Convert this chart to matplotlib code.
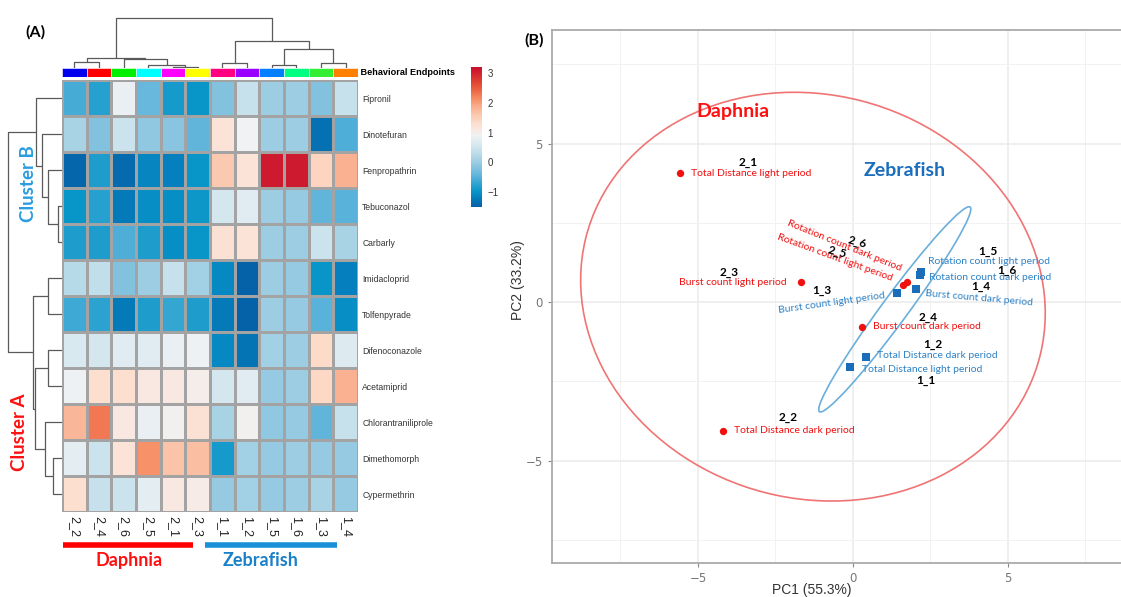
import numpy as np
import matplotlib
matplotlib.use('Agg')
import matplotlib.pyplot as plt
from matplotlib.colors import LinearSegmentedColormap, Normalize
from matplotlib.patches import Ellipse
import matplotlib.transforms as mtransforms

# ---------------- data: heatmap ----------------
samples = ['2_2', '2_4', '2_6', '2_5', '2_1', '2_3', '1_1', '1_2', '1_5', '1_6', '1_3', '1_4']
sample_colors = ['#0000ee', '#ff0000', '#00ee00', '#00ffff', '#ff00ff', '#ffff00',
                 '#ff0080', '#9900ff', '#0080ff', '#00ff80', '#33ee33', '#ff8000']
chemicals = ['Fipronil', 'Dinotefuran', 'Fenpropathrin', 'Tebuconazol', 'Carbarly',
             'Imidacloprid', 'Tolfenpyrade', 'Difenoconazole', 'Acetamiprid',
             'Chlorantraniliprole', 'Dimethomorph', 'Cypermethrin']
values = np.array([
    [-0.60, -0.80, 0.80, -0.40, -0.90, -1.00, -0.20, 0.40, 0.00, 0.00, -0.20, 0.40],
    [0.10, -0.20, 0.45, -0.10, -0.15, -0.45, 1.20, 0.90, 0.00, 0.00, -1.35, -0.55],
    [-1.45, -0.85, -1.40, -1.15, -1.20, -1.00, 1.60, 1.20, 3.10, 3.10, 1.45, 1.85],
    [-1.00, -0.80, -1.25, -1.05, -1.05, -0.95, 0.55, 0.70, 0.00, -0.05, -0.45, -0.50],
    [-0.85, -0.85, -0.55, -0.85, -1.05, -1.00, 1.25, 1.20, 0.00, 0.00, 0.45, 0.10],
    [0.25, 0.35, -0.20, 0.00, 0.40, 0.05, -1.10, -1.50, 0.00, -0.05, -1.00, -1.20],
    [-0.65, -0.75, -1.25, -0.85, -0.70, -0.85, -1.25, -1.50, 0.00, -0.05, -0.50, -1.05],
    [0.60, 0.55, 0.70, 0.70, 0.80, 0.85, -1.10, -1.30, 0.05, 0.00, 1.35, 0.65],
    [0.85, 1.30, 1.30, 1.10, 1.10, 1.00, 0.55, 0.70, -0.05, 0.00, 1.40, 1.85],
    [1.80, 2.30, 1.10, 0.80, 0.95, 1.25, 0.10, 0.95, -0.10, -0.05, -0.45, 0.40],
    [0.75, 0.45, 1.20, 2.10, 1.65, 1.70, -0.90, 0.05, -0.05, 0.00, -0.05, -0.05],
    [1.30, 0.40, 0.45, 0.75, 1.10, 1.05, -0.05, 0.05, -0.05, 0.00, 0.10, -0.05],
])
cbar_ticks = [-1, 0, 1, 2, 3]
# dendrogram merges: (node_a, node_b, height); new node ids start at 12
row_merges = [(3, 4, 4), (2, 12, 14), (1, 13, 20), (0, 14, 26), (5, 6, 14), (7, 8, 14),
              (10, 11, 9), (9, 18, 17), (17, 19, 27), (16, 20, 29), (15, 21, 54)]
col_merges = [(0, 1, 6), (4, 5, 1.5), (3, 13, 3), (2, 14, 9), (12, 15, 10.5), (6, 7, 5),
              (8, 9, 3), (10, 11, 5), (18, 19, 19), (17, 20, 27), (16, 21, 50)]

# ---------------- data: PCA ----------------
daphnia_ids = ['2_1', '2_2', '2_3', '2_4', '2_5', '2_6']
daphnia_pc1 = [-5.58, -4.20, -1.68, 0.28, 1.74, 1.60]
daphnia_pc2 = [4.07, -4.06, 0.63, -0.80, 0.64, 0.54]
zebra_ids = ['1_1', '1_2', '1_3', '1_4', '1_5', '1_6']
zebra_pc1 = [-0.10, 0.42, 1.41, 2.05, 2.20, 2.15]
zebra_pc2 = [-2.06, -1.72, 0.27, 0.42, 0.95, 0.85]
daphnia_endpoints = ['Total Distance light period', 'Total Distance dark period',
                     'Burst count light period', 'Burst count dark period',
                     'Rotation count light period', 'Rotation count dark period']
zebra_endpoints = ['Total Distance light period', 'Total Distance dark period',
                   'Burst count light period', 'Burst count dark period',
                   'Rotation count light period', 'Rotation count dark period']

RED = '#f01010'
BLUE = '#1a6db8'
BLUE_T = '#2f82c6'

W, H = 1121, 597
fig = plt.figure(figsize=(W / 100, H / 100), dpi=100)


def fr(x0, y0, x1, y1):
    """pixel box (top-left origin) -> figure fraction rect"""
    return [x0 / W, 1 - y1 / H, (x1 - x0) / W, (y1 - y0) / H]


cmap = LinearSegmentedColormap.from_list('hm', [
    (0.00, '#0562a8'), ((-1.2 + 1.5) / 4.7, '#0580bd'), ((-1.0 + 1.5) / 4.7, '#0895c8'),
    ((-0.7 + 1.5) / 4.7, '#35a6d2'), ((-0.4 + 1.5) / 4.7, '#6ab8dc'),
    ((0.0 + 1.5) / 4.7, '#9dcde3'), ((0.3 + 1.5) / 4.7, '#bcdde9'),
    ((0.6 + 1.5) / 4.7, '#d9e9f0'), ((0.9 + 1.5) / 4.7, '#f0f2f3'),
    ((1.1 + 1.5) / 4.7, '#f9e8e2'), ((1.3 + 1.5) / 4.7, '#fcdfcf'),
    ((1.6 + 1.5) / 4.7, '#fbc9af'), ((1.9 + 1.5) / 4.7, '#f9ad8c'),
    ((2.2 + 1.5) / 4.7, '#f5855c'), ((2.6 + 1.5) / 4.7, '#e65036'), (1.0, '#c8102e')])
norm = Normalize(vmin=-1.5, vmax=3.2)

# heatmap
ax_hm = fig.add_axes(fr(62, 80, 358, 512))
ax_hm.pcolormesh(np.arange(13), np.arange(13), values, cmap=cmap, norm=norm,
                 edgecolors='#a3a3a3', linewidth=0.9)
ax_hm.set_xlim(0, 12)
ax_hm.set_ylim(12, 0)
for s in ax_hm.spines.values():
    s.set_visible(False)
ax_hm.set_xticks(np.arange(12) + 0.5)
ax_hm.set_xticklabels(samples, rotation=270, fontsize=9, family='Liberation Sans',
                      color='#222222')
ax_hm.yaxis.tick_right()
ax_hm.set_yticks(np.arange(12) + 0.5)
ax_hm.set_yticklabels(chemicals, fontsize=6.2, family='Liberation Sans', color='#333333')
ax_hm.tick_params(length=0, pad=3)

# column colour strip
ax_st = fig.add_axes(fr(62, 68, 358, 77))
for i, c in enumerate(sample_colors):
    ax_st.bar(i + 0.5, 1, width=1, color=c, edgecolor='white', linewidth=0.4)
ax_st.set_xlim(0, 12)
ax_st.set_ylim(0, 1)
ax_st.axis('off')
ax_st.text(1.0, 0.5, ' Behavioral Endpoints', transform=ax_st.transAxes, ha='left',
           va='center', fontsize=6.6, fontweight='bold', family='Liberation Sans')


def dendro(ax, merges, n, orient):
    pos = {i: i + 0.5 for i in range(n)}
    hgt = {i: 0.0 for i in range(n)}
    for k, (a, b, h) in enumerate(merges):
        xs = [pos[a], pos[a], pos[b], pos[b]]
        ys = [hgt[a], h, h, hgt[b]]
        if orient == 'top':
            ax.plot(xs, ys, color='#5a5a5a', lw=0.9, solid_capstyle='butt')
        else:
            ax.plot(ys, xs, color='#5a5a5a', lw=0.9, solid_capstyle='butt')
        pos[n + k] = (pos[a] + pos[b]) / 2
        hgt[n + k] = h


ax_cd = fig.add_axes(fr(62, 10, 358, 68))
dendro(ax_cd, col_merges, 12, 'top')
ax_cd.set_xlim(0, 12)
ax_cd.set_ylim(0, 58)
ax_cd.axis('off')

ax_rd = fig.add_axes(fr(0, 80, 62, 512))
dendro(ax_rd, row_merges, 12, 'left')
ax_rd.set_ylim(12, 0)
ax_rd.set_xlim(62, 0)
ax_rd.axis('off')

# colorbar
ax_cb = fig.add_axes(fr(471, 67, 482, 207))
grad = np.linspace(-1.5, 3.2, 200).reshape(-1, 1)
ax_cb.imshow(grad, aspect='auto', cmap=cmap, norm=norm, origin='lower',
             extent=[0, 1, -1.5, 3.2])
ax_cb.set_xticks([])
ax_cb.yaxis.tick_right()
ax_cb.set_yticks(cbar_ticks)
ax_cb.set_yticklabels(['\u22121', '0', '1', '2', '3'], fontsize=7, color='#333333',
                      family='Liberation Sans')
ax_cb.tick_params(length=0, pad=4)
for s in ax_cb.spines.values():
    s.set_visible(False)

# group bars and labels under heatmap
tr = mtransforms.blended_transform_factory(ax_hm.transData, ax_hm.transAxes)
ax_hm.plot([0.04, 5.31], [-0.076, -0.076], transform=tr, color='#ff0000', lw=4,
           clip_on=False, solid_capstyle='butt')
ax_hm.plot([5.8, 11.15], [-0.076, -0.076], transform=tr, color='#1a90d8', lw=4,
           clip_on=False, solid_capstyle='butt')
ax_hm.text(2.72, -0.112, 'Daphnia', transform=tr, ha='center', va='center', color='#ff1010',
           fontsize=13, fontweight='bold', family='Lato')
ax_hm.text(8.07, -0.112, 'Zebrafish', transform=tr, ha='center', va='center', color='#1a80c8',
           fontsize=13, fontweight='bold', family='Lato')

fig.text(28 / W, 1 - 184 / H, 'Cluster B', rotation=90, ha='center', va='center',
         color='#2a9de0', fontsize=13.5, family='Lato', fontweight='bold')
fig.text(19.5 / W, 1 - 432 / H, 'Cluster A', rotation=90, ha='center', va='center',
         color='#ff1010', fontsize=13.5, family='Lato', fontweight='bold')
fig.text(35 / W, 1 - 32 / H, '(A)', ha='center', va='center', fontsize=11.5,
         fontweight='bold', family='Lato')
fig.text(534 / W, 1 - 40 / H, '(B)', ha='center', va='center', fontsize=11.5,
         fontweight='bold', family='Lato')

# ---------------- PCA panel ----------------
ax = fig.add_axes(fr(552, 30, 1130, 563))
ax.set_xlim(-9.71, 8.94)
ax.set_ylim(-8.23, 8.58)
ax.set_xticks([-5, 0, 5])
ax.set_yticks([-5, 0, 5])
ax.set_xticklabels(['\u22125', '0', '5'])
ax.set_yticklabels(['\u22125', '0', '5'])
ax.set_xticks([-7.5, -2.5, 2.5, 7.5], minor=True)
ax.set_yticks([-7.5, -2.5, 2.5, 7.5], minor=True)
ax.grid(which='major', color='#ebebeb', lw=1.1)
ax.grid(which='minor', color='#f2f2f2', lw=0.7)
ax.set_axisbelow(True)
ax.tick_params(which='major', length=3, color='#888888', labelcolor='#777777', labelsize=8.5)
ax.tick_params(which='minor', length=0)
for side in ['left', 'bottom', 'top']:
    ax.spines[side].set_color('#aaaaaa')
    ax.spines[side].set_linewidth(1.3)
ax.spines['right'].set_visible(False)

fig.text(812 / W, 1 - 590 / H, 'PC1 (55.3%)', ha='center', va='center', fontsize=10,
         color='#333333', family='Liberation Sans')
fig.text(518 / W, 1 - 280 / H, 'PC2 (33.2%)', ha='center', va='center', fontsize=10,
         color='#333333', rotation=90, family='Liberation Sans')

ax.add_patch(Ellipse((-1.29, 0.17), 2 * 7.56, 2 * 6.37, angle=-14, fill=False,
                     edgecolor='#f07474', lw=1.2))
ax.add_patch(Ellipse((1.35, -0.23), 2 * 4.04, 2 * 0.42, angle=53, fill=False,
                     edgecolor='#6aaedb', lw=1.2))

ax.scatter(daphnia_pc1, daphnia_pc2, s=28, color=RED, marker='o', zorder=3, linewidths=0)
ax.scatter(zebra_pc1, zebra_pc2, s=30, color=BLUE, marker='s', zorder=3, linewidths=0)

# label placement: (dx, dy, ha, rotation) in pixels relative to point
d_lab = [(11, 0, 'left', 0), (11, 0, 'left', 0), (-14, 0, 'right', 0), (11, 1, 'left', 0),
         (-72, 24, 'center', -20), (-58, 39, 'center', -22)]
d_id = [(68, 11, 0), (65, 13, 0), (-72, 10, 0), (66, 10, 0), (-70, 30, -15), (-45, 43, -15)]
z_lab = [(12, -2, 'left', 0), (11, 1, 'left', 0), (-65, -10, 'center', 8),
         (63, -9, 'center', -5), (7, 10, 'left', 0), (9, -2, 'left', 0)]
z_id = [(76, -13, 0), (67, 12, 0), (-75, 3, 0), (64, 2, 0), (67, 20, 0), (87, 5, 0)]

for i in range(6):
    dx, dy, ha, rot = d_lab[i]
    ax.annotate(daphnia_endpoints[i], (daphnia_pc1[i], daphnia_pc2[i]), xytext=(dx, dy),
                textcoords='offset pixels', ha=ha, va='center', rotation=rot,
                rotation_mode='anchor', color=RED, fontsize=7.5, family='Lato')
    dx, dy, rot = d_id[i]
    ax.annotate(daphnia_ids[i], (daphnia_pc1[i], daphnia_pc2[i]), xytext=(dx, dy),
                textcoords='offset pixels', ha='center', va='center', rotation=rot,
                rotation_mode='anchor', color='black', fontsize=8.5, fontweight='bold',
                family='Lato')
    dx, dy, ha, rot = z_lab[i]
    ax.annotate(zebra_endpoints[i], (zebra_pc1[i], zebra_pc2[i]), xytext=(dx, dy),
                textcoords='offset pixels', ha=ha, va='center', rotation=rot,
                rotation_mode='anchor', color=BLUE_T, fontsize=7.5, family='Lato')
    dx, dy, rot = z_id[i]
    ax.annotate(zebra_ids[i], (zebra_pc1[i], zebra_pc2[i]), xytext=(dx, dy),
                textcoords='offset pixels', ha='center', va='center', rotation=rot,
                rotation_mode='anchor', color='black', fontsize=8.5, fontweight='bold',
                family='Lato')

ax.text(-3.86, 6.00, 'Daphnia', ha='center', va='center', color='#ff1010', fontsize=14,
        fontweight='bold', family='Lato')
ax.text(1.68, 4.16, 'Zebrafish', ha='center', va='center', color='#1a6ebd', fontsize=14,
        fontweight='bold', family='Lato')

fig.savefig('out.png', dpi=100)
